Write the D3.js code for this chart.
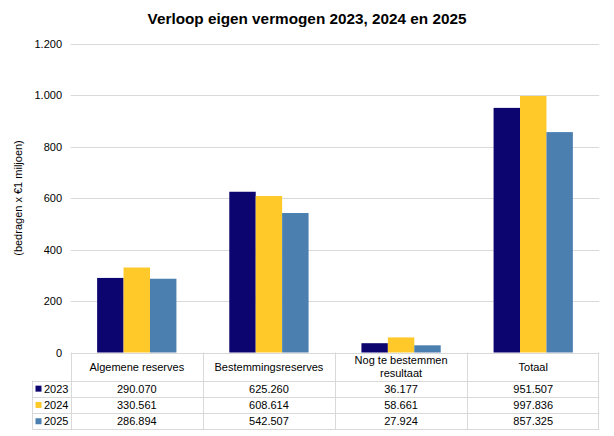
<!DOCTYPE html>
<html>
<head>
<meta charset="utf-8">
<script src="https://cdn.jsdelivr.net/npm/d3@7"></script>
<style>
  body { margin: 0; background: #fff; }
  text { font-family: "Liberation Sans", Arial, sans-serif; }
</style>
</head>
<body>
<div id="chart"></div>
<script>
var categories = ["Algemene reserves", "Bestemmingsreserves", "Nog te bestemmen\nresultaat", "Totaal"];
var years = ["2023", "2024", "2025"];
var values2023 = [290.070, 625.260, 36.177, 951.507];
var values2024 = [330.561, 608.614, 58.661, 997.836];
var values2025 = [286.894, 542.507, 27.924, 857.325];
var yTicks = [0, 200, 400, 600, 800, 1000, 1200];
var colors = ["#0d056f", "#ffc92a", "#4a7fb0"];

var width = 614, height = 436;
var plotLeft = 70.7, plotRight = 599.3, plotTop = 44, plotBottom = 352.5;
var series = [values2023, values2024, values2025];

// Dutch number format: dot as thousands separator
var nl = d3.formatLocale({decimal: ",", thousands: ".", grouping: [3], currency: ["€", ""]});
var fmtTick = nl.format(",d");
var fmtVal = function (v) { return d3.format(".3f")(v); };

document.addEventListener('DOMContentLoaded', function () {
    var svg = d3.select("#chart").append("svg")
        .attr("width", width)
        .attr("height", height);

    var x = d3.scaleBand().domain(categories).range([plotLeft, plotRight]);
    var xi = d3.scaleBand().domain(years).range([x.bandwidth() * 0.2, x.bandwidth() * 0.8]);
    var y = d3.scaleLinear().domain([0, 1200]).range([plotBottom, plotTop]);

    // Title
    svg.append("text")
        .attr("x", 307).attr("y", 24)
        .attr("text-anchor", "middle")
        .style("font-size", "15.3px")
        .style("font-weight", "bold")
        .text("Verloop eigen vermogen 2023, 2024 en 2025");

    // Grid lines
    svg.append("g").selectAll("line")
        .data(yTicks.slice(1))
        .enter().append("line")
        .attr("x1", plotLeft).attr("x2", plotRight)
        .attr("y1", d => Math.round(y(d)) + 0.5)
        .attr("y2", d => Math.round(y(d)) + 0.5)
        .attr("stroke", "#d9d9d9");

    // Y tick labels
    svg.append("g").selectAll("text")
        .data(yTicks)
        .enter().append("text")
        .attr("x", 62)
        .attr("y", d => y(d) + 4)
        .attr("text-anchor", "end")
        .style("font-size", "11px")
        .attr("fill", "#000")
        .text(d => fmtTick(d));

    // Y axis title
    svg.append("text")
        .attr("transform", "translate(22,198) rotate(-90)")
        .attr("text-anchor", "middle")
        .style("font-size", "11px")
        .text("(bedragen x €1 miljoen)");

    // Bars
    series.forEach(function (vals, s) {
        svg.append("g").selectAll("rect")
            .data(vals)
            .enter().append("rect")
            .attr("x", (d, i) => x(categories[i]) + xi(years[s]))
            .attr("width", xi.bandwidth())
            .attr("y", d => y(d))
            .attr("height", d => y(0) - y(d))
            .attr("fill", colors[s]);
    });

    // Data table
    var headerH = 28, rowH = 16.3, tableLeft = 32.3;
    var t = svg.append("g").attr("fill", "none").attr("stroke", "#d9d9d9");
    var tableBottom = plotBottom + headerH + rowH * 3;
    t.append("line").attr("x1", plotLeft).attr("x2", plotRight).attr("y1", Math.round(plotBottom) + 0.5).attr("y2", Math.round(plotBottom) + 0.5);
    for (var r = 0; r <= 3; r++) {
        var yy = Math.round(plotBottom + headerH + rowH * r) + 0.5;
        t.append("line").attr("x1", tableLeft).attr("x2", plotRight).attr("y1", yy).attr("y2", yy);
    }
    t.append("line").attr("x1", Math.round(tableLeft) + 0.5).attr("x2", Math.round(tableLeft) + 0.5)
        .attr("y1", plotBottom + headerH).attr("y2", tableBottom);
    categories.forEach(function (c) {
        var xx = Math.round(x(c)) + 0.5;
        t.append("line").attr("x1", xx).attr("x2", xx).attr("y1", plotBottom).attr("y2", tableBottom);
    });
    t.append("line").attr("x1", Math.round(plotRight) - 0.5).attr("x2", Math.round(plotRight) - 0.5)
        .attr("y1", plotBottom).attr("y2", tableBottom);

    // header labels
    categories.forEach(function (c) {
        var lines = c.split("\n");
        var cx = x(c) + x.bandwidth() / 2;
        var cy = plotBottom + headerH / 2 + 4 - (lines.length - 1) * 6.5;
        lines.forEach(function (l, k) {
            svg.append("text")
                .attr("x", cx).attr("y", cy + k * 13)
                .attr("text-anchor", "middle")
                .style("font-size", "11px")
                .text(l);
        });
    });

    // rows
    series.forEach(function (vals, s) {
        var rowY = plotBottom + headerH + rowH * s + rowH / 2;
        svg.append("rect")
            .attr("x", 35.5).attr("y", rowY - 3)
            .attr("width", 6).attr("height", 6)
            .attr("fill", colors[s]);
        svg.append("text")
            .attr("x", 44).attr("y", rowY + 4)
            .style("font-size", "11px")
            .text(years[s]);
        svg.append("g").selectAll("text")
            .data(vals)
            .enter().append("text")
            .attr("x", (d, i) => x(categories[i]) + x.bandwidth() / 2)
            .attr("y", rowY + 4)
            .attr("text-anchor", "middle")
            .style("font-size", "11px")
            .text(d => fmtVal(d));
    });
});
</script>
</body>
</html>
